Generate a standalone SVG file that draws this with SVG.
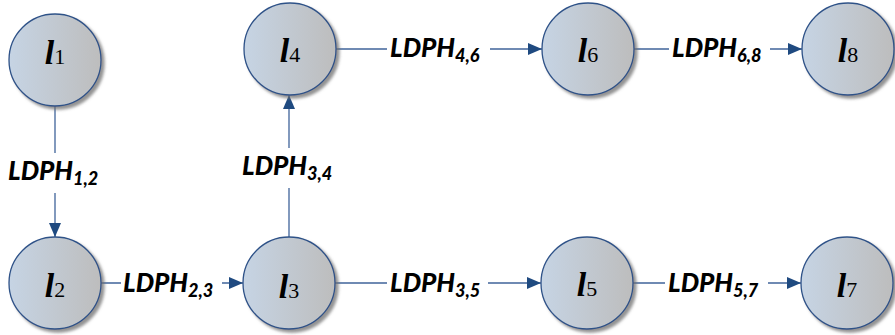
<svg xmlns="http://www.w3.org/2000/svg" width="895" height="335" viewBox="0 0 895 335">
  <defs>
    <linearGradient id="nodeFill" x1="0" y1="0" x2="1" y2="0">
      <stop offset="0" stop-color="#c6d4e4"/>
      <stop offset="1" stop-color="#bdbdbd"/>
    </linearGradient>
    <filter id="shadow" x="-20%" y="-20%" width="150%" height="150%">
      <feDropShadow dx="3" dy="3" stdDeviation="1.6" flood-color="#6e6e6e" flood-opacity="0.75"/>
    </filter>
    <marker id="arrow" markerUnits="userSpaceOnUse" markerWidth="14" markerHeight="14" viewBox="0 0 14 14" refX="14" refY="7" orient="auto">
      <path d="M0,1 L14,7 L0,13 z" fill="#1f4a80"/>
    </marker>
    <style>
      .node circle { fill: url(#nodeFill); stroke: #2f5288; stroke-width: 1.3; filter: url(#shadow); }
      .node text { font-family: "Liberation Serif", "Times New Roman", serif; text-anchor: middle; fill: #000; }
      .node .v { font-size: 34px; font-style: italic; font-weight: bold; }
      .node .i { font-size: 22px; }
      .edge line { stroke: #3f639a; stroke-width: 1.3; marker-end: url(#arrow); }
      .edge rect { fill: #fff; }
      .edge text { font-family: Lato, "Open Sans", "Liberation Sans", sans-serif; font-weight: 900; font-style: italic; font-size: 26px; fill: #000; }
      .edge .s { font-size: 18px; }
    </style>
  </defs>

  <!-- connectors with their labels -->
  <g id="connectors">
    <g class="edge" id="e12">
      <line x1="55" y1="106" x2="55" y2="237"/>
      <rect x="6" y="153" width="98" height="40"/>
      <text x="8" y="180">LDPH<tspan class="s" dy="5">1,2</tspan></text>
    </g>
    <g class="edge" id="e23">
      <line x1="101" y1="283" x2="243" y2="283"/>
      <rect x="121" y="268" width="101" height="32"/>
      <text x="123" y="292">LDPH<tspan class="s" dy="5">2,3</tspan></text>
    </g>
    <g class="edge" id="e34">
      <line x1="289" y1="237" x2="289" y2="95"/>
      <rect x="238" y="148" width="102" height="40"/>
      <text x="242" y="175">LDPH<tspan class="s" dy="5">3,4</tspan></text>
    </g>
    <g class="edge" id="e46">
      <line x1="336" y1="49" x2="542" y2="49"/>
      <rect x="387" y="34" width="103" height="32"/>
      <text x="390" y="57">LDPH<tspan class="s" dy="5">4,6</tspan></text>
    </g>
    <g class="edge" id="e68">
      <line x1="634" y1="49" x2="802" y2="49"/>
      <rect x="669" y="34" width="101" height="32"/>
      <text x="672" y="57">LDPH<tspan class="s" dy="5">6,8</tspan></text>
    </g>
    <g class="edge" id="e35">
      <line x1="335" y1="283" x2="541" y2="283"/>
      <rect x="387" y="268" width="101" height="32"/>
      <text x="390" y="292">LDPH<tspan class="s" dy="5">3,5</tspan></text>
    </g>
    <g class="edge" id="e57">
      <line x1="633" y1="283" x2="801" y2="283"/>
      <rect x="665" y="268" width="103" height="32"/>
      <text x="668" y="292">LDPH<tspan class="s" dy="5">5,7</tspan></text>
    </g>
  </g>

  <!-- nodes -->
  <g class="node" id="l1">
    <circle cx="55" cy="60" r="46"/>
    <text x="55" y="64"><tspan class="v">l</tspan><tspan class="i">1</tspan></text>
  </g>
  <g class="node" id="l2">
    <circle cx="55" cy="283" r="46"/>
    <text x="55" y="297"><tspan class="v">l</tspan><tspan class="i">2</tspan></text>
  </g>
  <g class="node" id="l3">
    <circle cx="289" cy="283" r="46"/>
    <text x="289" y="298"><tspan class="v">l</tspan><tspan class="i">3</tspan></text>
  </g>
  <g class="node" id="l4">
    <circle cx="290" cy="49" r="46"/>
    <text x="290" y="62"><tspan class="v">l</tspan><tspan class="i">4</tspan></text>
  </g>
  <g class="node" id="l5">
    <circle cx="587" cy="283" r="46"/>
    <text x="587" y="296"><tspan class="v">l</tspan><tspan class="i">5</tspan></text>
  </g>
  <g class="node" id="l6">
    <circle cx="588" cy="49" r="46"/>
    <text x="588" y="62"><tspan class="v">l</tspan><tspan class="i">6</tspan></text>
  </g>
  <g class="node" id="l7">
    <circle cx="847" cy="283" r="46"/>
    <text x="847" y="297"><tspan class="v">l</tspan><tspan class="i">7</tspan></text>
  </g>
  <g class="node" id="l8">
    <circle cx="848" cy="49" r="46"/>
    <text x="848" y="62"><tspan class="v">l</tspan><tspan class="i">8</tspan></text>
  </g>
</svg>
